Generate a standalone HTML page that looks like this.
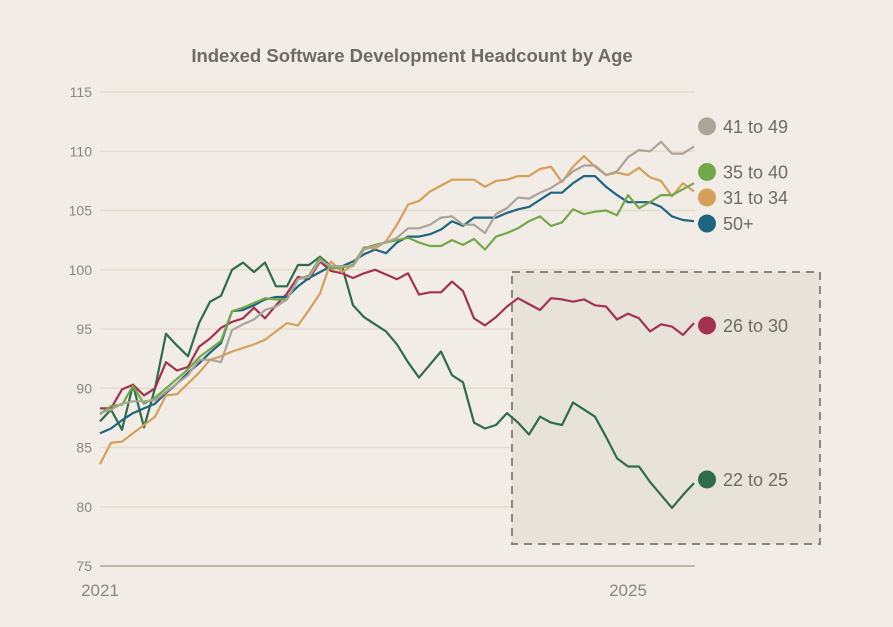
<!DOCTYPE html>
<html><head><meta charset="utf-8">
<style>
html,body{margin:0;padding:0;background:#f1ede6;}
svg{display:block;font-family:"Liberation Sans",sans-serif;}
</style></head>
<body>
<svg id="chart" width="893" height="627" viewBox="0 0 893 627" xmlns="http://www.w3.org/2000/svg">
<rect width="893" height="627" fill="#f1ede6"/>
<text x="412" y="62" text-anchor="middle" font-size="18.5" font-weight="bold" fill="#6e6a66">Indexed Software Development Headcount by Age</text>
<g id="grid"></g>
<rect x="512" y="272" width="308" height="272" fill="#e8e3da" stroke="#8a8680" stroke-width="2" stroke-dasharray="8,6"/>
<g id="series"></g>
<g id="labels"></g>
</svg>
<script>
const yTicks = [75, 80, 85, 90, 95, 100, 105, 110, 115];
const xTickLabels = ["2021", "2025"];
const xTickMonths = [0, 48];
const seriesNames = ["41 to 49", "35 to 40", "31 to 34", "50+", "26 to 30", "22 to 25"];
const seriesColors = ["#aca496", "#72a84a", "#d4a05a", "#1f6480", "#a3324e", "#2e6b4f"];
const labelValues = [112.1, 108.25, 106.1, 103.9, 95.3, 82.3];
const s41to49 = [87.9,88.2,88.7,88.9,88.9,89,89.7,90.4,91.1,92.4,92.4,92.2,94.9,95.4,95.8,96.6,96.9,97.5,99.2,99.4,100.8,100.3,100.3,100.3,101.7,102,102.3,102.7,103.5,103.5,103.8,104.4,104.5,103.8,103.8,103.1,104.7,105.2,106.1,106,106.5,106.9,107.5,108.3,108.8,108.8,108,108.3,109.5,110.1,110,110.8,109.8,109.8,110.4];
const s35to40 = [87.8,88.5,88.6,90.2,88.7,89.2,90,90.8,91.6,92.6,93.3,94,96.5,96.8,97.2,97.6,97.5,97.5,99.2,99.5,101,100.1,100.2,100.4,101.8,102.1,102.3,102.5,102.7,102.3,102,102,102.5,102.1,102.6,101.7,102.8,103.1,103.5,104.1,104.5,103.7,104,105.1,104.7,104.9,105,104.6,106.3,105.2,105.7,106.3,106.3,106.8,107.3];
const s31to34 = [83.6,85.4,85.5,86.2,86.9,87.6,89.4,89.5,90.4,91.3,92.4,92.7,93.1,93.4,93.7,94.1,94.8,95.5,95.3,96.6,98,100.7,99.8,100.4,101.9,101.8,102.4,103.8,105.5,105.8,106.6,107.1,107.6,107.6,107.6,107,107.5,107.6,107.9,107.9,108.5,108.7,107.4,108.7,109.6,108.7,108,108.2,108,108.6,107.8,107.5,106.2,107.3,106.6];
const s50plus = [86.2,86.6,87.3,87.9,88.3,88.7,89.6,90.4,91.3,92.1,93,93.8,96.5,96.6,97,97.5,97.7,97.7,98.6,99.3,99.8,100.3,100.3,100.7,101.3,101.7,101.4,102.3,102.8,102.8,103,103.4,104.1,103.7,104.4,104.4,104.4,104.8,105.1,105.3,105.9,106.5,106.5,107.3,107.9,107.9,107,106.3,105.7,105.7,105.7,105.3,104.5,104.2,104.1];
const s26to30 = [88.3,88.3,89.9,90.3,89.4,90,92.2,91.5,91.8,93.5,94.2,95.1,95.6,95.9,96.8,95.9,97,98,99.4,99.2,100.7,99.9,99.7,99.3,99.7,100,99.6,99.2,99.7,97.9,98.1,98.1,99,98.2,95.9,95.3,96,96.9,97.6,97.1,96.6,97.6,97.5,97.3,97.5,97,96.9,95.8,96.3,95.9,94.8,95.4,95.2,94.5,95.5];
const s22to25 = [87.2,88.2,86.5,90.3,86.7,90,94.6,93.6,92.7,95.5,97.3,97.8,100,100.6,99.8,100.6,98.6,98.6,100.4,100.4,101.1,100.3,100.3,97,96,95.4,94.8,93.7,92.2,90.9,92,93.1,91.1,90.5,87.1,86.6,86.9,87.9,87.1,86.1,87.6,87.1,86.9,88.8,88.2,87.6,85.9,84.1,83.4,83.4,82.1,81,79.9,81,82];
const seriesData = [s41to49, s35to40, s31to34, s50plus, s26to30, s22to25];

const NS = "http://www.w3.org/2000/svg";
function xScale(m){ return 100 + (m / 48) * 528; }
function yScale(v){ return 566 - (v - 75) / 40 * 474; }

const grid = document.getElementById('grid');
yTicks.forEach(function(t){
  const ln = document.createElementNS(NS,'line');
  
  
  ln.setAttribute('x1', 100); ln.setAttribute('x2', 695);
  ln.setAttribute('y1', yScale(t)); ln.setAttribute('y2', yScale(t));
  ln.setAttribute('stroke', t === 75 ? '#b0a58f' : '#e6dccb');
  ln.setAttribute('stroke-width', 1.5);
  grid.appendChild(ln);
  const tx = document.createElementNS(NS,'text');
  
  
  tx.setAttribute('x', 92); tx.setAttribute('y', yScale(t) + 5);
  tx.setAttribute('text-anchor', 'end');
  tx.setAttribute('font-size', '14'); tx.setAttribute('fill', '#8a8680');
  tx.textContent = t;
  grid.appendChild(tx);
});
xTickLabels.forEach(function(lab, i){
  const tx = document.createElementNS(NS,'text');
  
  
  tx.setAttribute('x', xScale(xTickMonths[i]));
  tx.setAttribute('y', 596);
  tx.setAttribute('text-anchor', 'middle');
  tx.setAttribute('font-size', '17'); tx.setAttribute('fill', '#8a8680');
  tx.textContent = lab;
  grid.appendChild(tx);
});

const sg = document.getElementById('series');
const lg = document.getElementById('labels');
for (let k = seriesData.length - 1; k >= 0; k--) {
  const d = seriesData[k].map(function(v, i){ return (i ? 'L' : 'M') + xScale(i).toFixed(1) + ',' + yScale(v).toFixed(1); }).join('');
  const p = document.createElementNS(NS,'path');
  
  
  p.setAttribute('d', d);
  p.setAttribute('fill', 'none');
  p.setAttribute('stroke', seriesColors[k]);
  p.setAttribute('stroke-width', '2.2');
  p.setAttribute('stroke-linejoin', 'round');
  sg.appendChild(p);
}
seriesNames.forEach(function(n, k){
  const y = yScale(labelValues[k]);
  const c = document.createElementNS(NS,'circle');
  
  
  c.setAttribute('cx', 707); c.setAttribute('cy', y); c.setAttribute('r', 9);
  c.setAttribute('fill', seriesColors[k]);
  lg.appendChild(c);
  const t = document.createElementNS(NS,'text');
  
  
  t.setAttribute('x', 723); t.setAttribute('y', y + 6.5);
  t.setAttribute('font-size', '18'); t.setAttribute('fill', '#6e6a66');
  t.textContent = n;
  lg.appendChild(t);
});
</script>
</body></html>
